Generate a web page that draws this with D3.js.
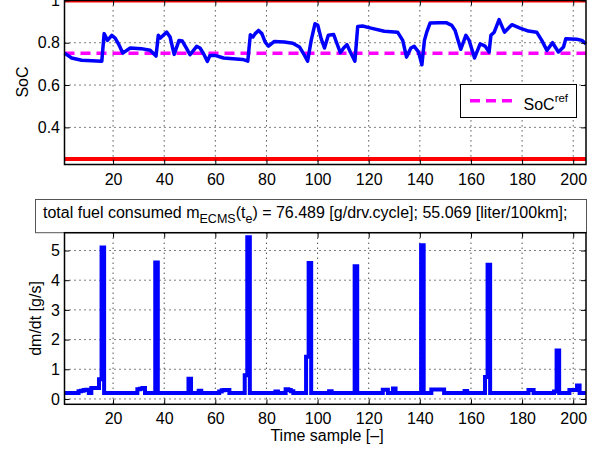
<!DOCTYPE html>
<html>
<head>
<meta charset="utf-8">
<script src="https://d3js.org/d3.v7.min.js"></script>
<style>
	body { margin: 0; background: #fff; }
	svg text { font-family: 'Liberation Sans', Arial, sans-serif; fill: #000; }
</style>
</head>
<body>
<svg id="chart" width="604" height="454"></svg>
<script>
'use strict';

// SoC trace (sample, value)
var socT = [1, 3.8, 7.7, 15.6, 16.5, 17.8, 19.5, 20.8, 22.1, 23.8,
	26.7, 31, 34.5, 36.8, 37.7, 38.5, 41, 42.3, 43.9, 45.8,
	47.1, 48.8, 50.1, 52.7, 54, 55.4, 56.9, 57.9, 59.9, 63.2,
	70.7, 72.7, 73.7, 74.7, 75.6, 76.9, 78.2, 79.5, 80.8, 83.1,
	87, 90.3, 92.9, 94.9, 96.1, 97.5, 99, 100.1, 101.4, 102.7,
	104.2, 106.3, 107.6, 108.9, 110.2, 111.5, 112.8, 114.6, 115.7, 117.6,
	120.9, 126.1, 131.3, 133.3, 134.8, 136.5, 137.8, 139.5, 140.8, 141.8,
	142.7, 144, 147.3, 150.5, 152.5, 153.8, 156, 158, 159.3, 161.4,
	163.6, 165.5, 167.1, 167.8, 169.1, 171, 173.1, 176, 179.2, 182.5,
	185.7, 187.7, 189.7, 191.9, 194.2, 196.2, 197.1, 201.4, 203.4, 205];
var socV = [0.751, 0.728, 0.717, 0.713, 0.843, 0.811, 0.835, 0.822, 0.795, 0.751,
	0.775, 0.772, 0.764, 0.737, 0.835, 0.822, 0.850, 0.827, 0.745, 0.811,
	0.808, 0.772, 0.743, 0.783, 0.775, 0.748, 0.712, 0.740, 0.740, 0.728,
	0.721, 0.713, 0.838, 0.827, 0.843, 0.858, 0.843, 0.803, 0.784, 0.806,
	0.803, 0.798, 0.780, 0.740, 0.713, 0.811, 0.890, 0.882, 0.819, 0.775,
	0.835, 0.839, 0.795, 0.753, 0.775, 0.791, 0.756, 0.713, 0.877, 0.879,
	0.869, 0.854, 0.850, 0.811, 0.732, 0.775, 0.783, 0.756, 0.696, 0.811,
	0.850, 0.893, 0.894, 0.894, 0.882, 0.858, 0.769, 0.835, 0.811, 0.728,
	0.795, 0.784, 0.756, 0.835, 0.850, 0.909, 0.850, 0.885, 0.869, 0.855,
	0.850, 0.811, 0.764, 0.800, 0.756, 0.780, 0.819, 0.816, 0.811, 0.795];

var socRef = 0.75;
var socLimits = [0.25, 1];

// fuel mass flow per time sample 1..205 [g/s]
var fuel = [
	0.2, 0.2, 0.2, 0.2, 0.2, 0.2, 0.26, 0.28, 0.30, 0.31,
	0.2, 0.37, 0.37, 0.37, 0.66, 5.1, 0.2, 0.2, 0.2, 0.2,
	0.2, 0.2, 0.2, 0.2, 0.2, 0.2, 0.2, 0.2, 0.2, 0.33,
	0.34, 0.37, 0.2, 0.2, 0.2, 0.2, 4.6, 0.2, 0.2, 0.2,
	0.2, 0.2, 0.2, 0.2, 0.2, 0.2, 0.2, 0.2, 0.2, 0.68,
	0.2, 0.2, 0.2, 0.28, 0.2, 0.2, 0.2, 0.2, 0.2, 0.2,
	0.2, 0.25, 0.29, 0.30, 0.30, 0.2, 0.2, 0.2, 0.2, 0.2,
	0.2, 0.8, 5.45, 0.2, 0.2, 0.2, 0.2, 0.2, 0.2, 0.2,
	0.2, 0.2, 0.2, 0.25, 0.2, 0.2, 0.2, 0.33, 0.30, 0.26,
	0.2, 0.2, 0.2, 0.2, 0.2, 1.42, 4.58, 0.2, 0.2, 0.2,
	0.2, 0.2, 0.2, 0.2, 0.26, 0.2, 0.2, 0.2, 0.2, 0.2,
	0.2, 0.2, 0.2, 0.2, 4.47, 0.2, 0.2, 0.2, 0.2, 0.2,
	0.2, 0.2, 0.2, 0.2, 0.2, 0.31, 0.31, 0.2, 0.2, 0.35,
	0.2, 0.2, 0.2, 0.2, 0.2, 0.2, 0.2, 0.2, 0.2, 0.2,
	5.18, 0.2, 0.2, 0.2, 0.32, 0.32, 0.32, 0.32, 0.32, 0.2,
	0.2, 0.2, 0.2, 0.2, 0.2, 0.2, 0.2, 0.27, 0.2, 0.2,
	0.2, 0.2, 0.2, 0.2, 0.2, 0.74, 4.52, 0.2, 0.2, 0.2,
	0.2, 0.2, 0.2, 0.2, 0.2, 0.2, 0.2, 0.2, 0.2, 0.2,
	0.2, 0.2, 0.30, 0.30, 0.2, 0.2, 0.2, 0.2, 0.2, 0.2,
	0.2, 0.2, 0.25, 1.63, 0.2, 0.2, 0.2, 0.2, 0.30, 0.30,
	0.30, 0.45, 0.2, 0.2, 0.2];

var xTicks = [20, 40, 60, 80, 100, 120, 140, 160, 180, 200];
var socTicks = [0.4, 0.6, 0.8, 1];
var fuelTicks = [0, 1, 2, 3, 4, 5];

var svg = d3.select('#chart');

var x_scale = d3.scaleLinear().domain([1, 205]).range([64.5, 586]);
var y_soc = d3.scaleLinear().domain([0.2245, 1]).range([164.5, 0.4]);
var y_fuel = d3.scaleLinear().domain([-0.18, 5.6]).range([404.3, 232.7]);

function drawPanel(y_scale, yTicks, top, bottom, fmt, xPad) {
	var left = x_scale.range()[0];
	var right = x_scale.range()[1];
	var g = svg.append('g');

	// dotted grid
	g.selectAll('line.vgrid').data(xTicks).enter().append('line')
		.attr('x1', function(d) { return x_scale(d); })
		.attr('x2', function(d) { return x_scale(d); })
		.attr('y1', top).attr('y2', bottom)
		.attr('stroke', '#000').attr('stroke-width', 1)
		.attr('stroke-dasharray', '1,4');
	g.selectAll('line.hgrid').data(yTicks).enter().append('line')
		.attr('x1', left).attr('x2', right)
		.attr('y1', function(d) { return y_scale(d); })
		.attr('y2', function(d) { return y_scale(d); })
		.attr('stroke', '#000').attr('stroke-width', 1)
		.attr('stroke-dasharray', '1,4');
	return g;
}

function drawFrame(y_scale, yTicks, top, bottom, fmt, xPad) {
	var left = x_scale.range()[0];
	var right = x_scale.range()[1];
	var g = svg.append('g');

	var ax = g.append('g').attr('transform', 'translate(0,' + bottom + ')')
		.call(d3.axisBottom(x_scale).tickValues(xTicks).tickSizeInner(-5).tickSizeOuter(0).tickPadding(xPad));
	g.append('g').attr('transform', 'translate(0,' + top + ')')
		.call(d3.axisTop(x_scale).tickValues(xTicks).tickSizeInner(-5).tickSizeOuter(0).tickFormat(''));
	var ay = g.append('g').attr('transform', 'translate(' + left + ',0)')
		.call(d3.axisLeft(y_scale).tickValues(yTicks).tickSizeInner(-5).tickSizeOuter(0).tickPadding(4.5).tickFormat(fmt));
	g.append('g').attr('transform', 'translate(' + right + ',0)')
		.call(d3.axisRight(y_scale).tickValues(yTicks).tickSizeInner(-5).tickSizeOuter(0).tickFormat(''));

	g.selectAll('.domain').remove();
	g.selectAll('.tick line').attr('stroke', '#000');
	g.selectAll('.tick text').attr('font-size', 16).attr('fill', '#000')
		.style('font-family', "'Liberation Sans', Arial, sans-serif");

	g.append('rect')
		.attr('x', left).attr('y', top)
		.attr('width', right - left).attr('height', bottom - top)
		.attr('fill', 'none').attr('stroke', '#000').attr('stroke-width', 1.5);
	return g;
}

// ---- upper panel: state of charge ----
var top1 = y_soc.range()[1], bot1 = y_soc.range()[0];
drawPanel(y_soc, socTicks, top1, bot1);

svg.selectAll('line.limit').data(socLimits).enter().append('line')
	.attr('class', 'limit')
	.attr('x1', x_scale(1)).attr('x2', x_scale(205))
	.attr('y1', function(d) { return y_soc(d); })
	.attr('y2', function(d) { return y_soc(d); })
	.attr('stroke', '#ff0000').attr('stroke-width', 4);

svg.append('line')
	.attr('x1', x_scale(1)).attr('x2', x_scale(205))
	.attr('y1', y_soc(socRef)).attr('y2', y_soc(socRef))
	.attr('stroke', '#ff00ff').attr('stroke-width', 3.5)
	.attr('stroke-dasharray', '10,6');

var socLine = d3.line()
	.x(function(d, i) { return x_scale(socT[i]); })
	.y(function(d) { return y_soc(d); });
svg.append('path')
	.attr('d', socLine(socV))
	.attr('fill', 'none').attr('stroke', '#0000ff').attr('stroke-width', 3.5)
	.attr('stroke-linejoin', 'round');

drawFrame(y_soc, socTicks, top1, bot1, function(d) { return d === 1 ? '1' : d3.format('.1f')(d); }, 9.6);

svg.append('text')
	.attr('transform', 'translate(27.5,82) rotate(-90)')
	.attr('text-anchor', 'middle').attr('font-size', 16)
	.text('SoC');

// legend
var legend = svg.append('g').attr('transform', 'translate(460.5,84.5)');
legend.append('rect').attr('width', 116).attr('height', 33)
	.attr('fill', '#fff').attr('stroke', '#000').attr('stroke-width', 1);
legend.append('line').attr('x1', 9.5).attr('x2', 53).attr('y1', 16.2).attr('y2', 16.2)
	.attr('stroke', '#ff00ff').attr('stroke-width', 3.5).attr('stroke-dasharray', '10,6');
var legText = legend.append('text').attr('x', 63).attr('y', 25.5).attr('font-size', 16);
legText.append('tspan').text('SoC');
legText.append('tspan').attr('dy', -8.5).attr('font-size', 11.5).text('ref');

// ---- lower panel: fuel mass flow ----
var top2 = y_fuel.range()[1], bot2 = y_fuel.range()[0];

// title box
var titleBox = svg.append('g');
titleBox.append('rect')
	.attr('x', 35.5).attr('y', 199.5).attr('width', 551).attr('height', 33.2)
	.attr('fill', '#fff').attr('stroke', '#555').attr('stroke-width', 1);
var title = titleBox.append('text').attr('x', 43).attr('y', 217.7).attr('font-size', 16);
title.append('tspan').text('total fuel consumed m');
title.append('tspan').attr('dy', 5.6).attr('font-size', 12.5).text('ECMS');
title.append('tspan').attr('dy', -5.6).text('(t');
title.append('tspan').attr('dy', 5.6).attr('font-size', 12.5).text('e');
title.append('tspan').attr('dy', -5.6).text(') = 76.489 [g/drv.cycle]; 55.069 [liter/100km];');

drawPanel(y_fuel, fuelTicks, top2, bot2);

var fuelLine = d3.line()
	.x(function(d, i) { return x_scale(i + 1); })
	.y(function(d) { return y_fuel(d); })
	.curve(d3.curveStep);
svg.append('path')
	.attr('d', fuelLine(fuel))
	.attr('fill', 'none').attr('stroke', '#0000ff').attr('stroke-width', 4)
	.attr('stroke-linejoin', 'miter');

drawFrame(y_fuel, fuelTicks, top2, bot2, d3.format('d'), 8.8);

svg.append('text')
	.attr('transform', 'translate(41,318.5) rotate(-90)')
	.attr('text-anchor', 'middle').attr('font-size', 16)
	.text('dm/dt [g/s]');

svg.append('text')
	.attr('x', 327).attr('y', 441)
	.attr('text-anchor', 'middle').attr('font-size', 16)
	.text('Time sample [–]');
</script>
</body>
</html>
